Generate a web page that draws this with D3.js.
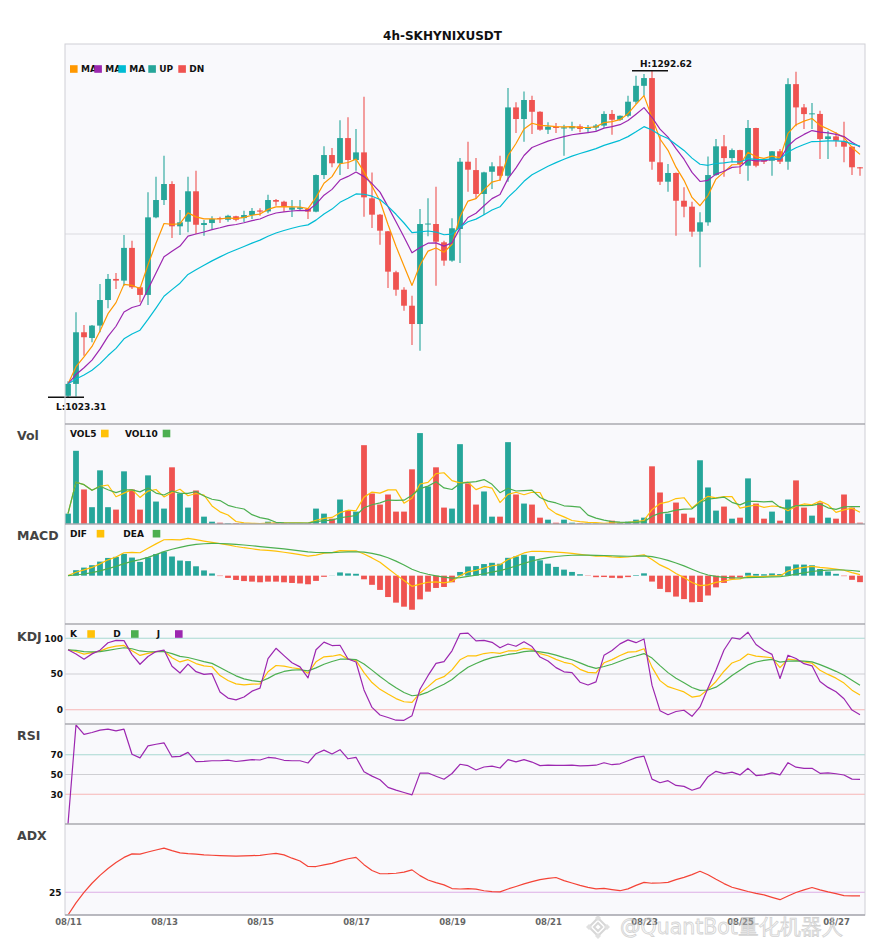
<!DOCTYPE html>
<html><head><meta charset="utf-8">
<script src="https://cdn.jsdelivr.net/npm/d3@7"></script>
<style>body{margin:0;background:#fff;} text{font-family:"DejaVu Sans",sans-serif;}</style>
</head><body><svg id="c" width="885" height="950"></svg>
<script>
// ---------- data ----------
const opens = [1024.5,1034.3,1076.9,1072.2,1082.4,1103.5,1120.9,1119.5,1146.5,1114.0,
1107.7,1171.7,1186.0,1199.2,1164.3,1168.1,1193.2,1165.4,1167.0,1171.1,
1169.7,1172.6,1171.1,1173.6,1177.4,1176.6,1186.0,1184.6,1178.0,1178.7,
1178.7,1176.4,1206.6,1223.1,1216.3,1237.1,1219.0,1225.3,1187.4,1173.9,
1160.2,1126.4,1112.0,1098.8,1083.7,1165.8,1166.2,1151.1,1136.0,1162.1,
1217.6,1210.7,1191.0,1209.3,1213.8,1206.0,1262.4,1252.8,1268.5,1258.8,
1244.0,1246.5,1245.0,1245.1,1246.8,1244.6,1245.7,1247.4,1257.0,1252.2,
1255.5,1267.1,1280.2,1286.6,1217.1,1201.1,1208.3,1185.4,1180.5,1159.9,
1167.6,1206.6,1230.3,1220.6,1227.2,1214.3,1245.4,1219.0,1218.4,1226.2,
1217.6,1281.6,1262.4,1257.0,1257.0,1236.3,1238.5,1234.6,1230.0,1213.0];
const highs = [1036.4,1093.4,1082.9,1082.9,1116.7,1125.0,1125.8,1157.1,1152.4,1114.4,
1192.4,1205.2,1222.5,1201.4,1177.8,1205.2,1210.2,1169.5,1172.6,1172.2,
1173.9,1173.0,1177.2,1179.4,1179.2,1190.4,1186.8,1185.4,1186.0,1186.0,
1179.2,1207.0,1230.3,1228.9,1251.9,1254.2,1244.6,1271.2,1208.8,1174.5,
1160.5,1127.7,1114.0,1107.1,1178.6,1187.4,1197.0,1152.4,1170.9,1220.6,
1234.1,1220.6,1209.3,1217.1,1222.5,1278.4,1266.6,1275.6,1272.0,1259.2,
1250.1,1249.5,1248.0,1250.6,1248.4,1247.8,1248.7,1259.2,1260.2,1255.8,
1272.0,1288.5,1289.9,1292.62,1239.0,1215.7,1208.6,1196.5,1184.6,1175.9,
1222.0,1236.3,1239.6,1228.6,1227.5,1252.0,1245.7,1219.8,1226.5,1228.0,
1286.4,1291.8,1265.2,1266.0,1259.6,1243.2,1241.8,1250.6,1230.3,1213.2];
const lows = [1023.31,1024.0,1057.6,1068.7,1076.9,1096.7,1112.6,1115.3,1112.6,1101.6,
1099.4,1170.9,1181.9,1154.7,1157.1,1159.4,1158.0,1156.6,1162.1,1167.0,
1168.1,1168.4,1167.6,1170.3,1173.0,1175.0,1181.3,1176.4,1172.0,1177.2,
1170.3,1175.9,1203.3,1213.0,1206.6,1211.6,1210.2,1172.2,1162.9,1149.1,
1113.4,1107.1,1094.7,1066.4,1061.7,1156.1,1115.3,1131.8,1135.1,1134.0,
1192.9,1186.8,1173.6,1195.1,1201.9,1201.1,1241.2,1234.1,1240.4,1243.2,
1240.4,1241.2,1222.5,1243.2,1241.8,1242.0,1243.2,1245.6,1239.9,1251.4,
1254.2,1265.2,1272.0,1211.0,1198.4,1192.9,1156.6,1171.7,1155.7,1130.5,
1164.8,1206.0,1205.2,1217.1,1207.4,1201.9,1213.0,1215.7,1206.0,1215.7,
1211.0,1246.8,1244.5,1244.5,1219.8,1219.8,1230.0,1217.1,1206.6,1206.0];
const closes = [1034.3,1076.9,1072.8,1082.4,1103.5,1120.9,1119.5,1146.5,1114.0,1107.7,
1171.7,1186.0,1199.2,1164.3,1167.6,1193.2,1165.6,1167.0,1170.3,1170.3,
1173.0,1169.7,1173.6,1177.0,1176.4,1186.0,1184.6,1180.8,1180.0,1180.0,
1176.4,1206.6,1223.1,1216.3,1237.1,1219.0,1225.3,1188.2,1173.9,1160.7,
1126.9,1112.0,1098.8,1083.7,1166.2,1166.6,1151.6,1136.0,1162.7,1217.6,
1211.0,1191.0,1208.8,1213.8,1206.0,1262.4,1252.8,1268.5,1258.8,1244.0,
1246.5,1245.4,1246.0,1246.8,1244.6,1245.7,1247.4,1257.0,1252.2,1255.5,
1267.1,1280.2,1286.6,1217.6,1201.1,1208.3,1185.4,1180.5,1159.9,1167.6,
1206.6,1230.3,1220.6,1227.2,1215.7,1245.4,1214.3,1217.6,1226.2,1217.6,
1281.6,1262.4,1256.9,1257.5,1236.3,1238.5,1234.9,1230.0,1213.0,1212.1];
const volumes = [1030,7270,3430,1670,5330,1670,1430,5230,3430,1430,
4830,2230,1530,5630,3030,1630,3330,730,230,130,
70,70,30,30,30,230,130,100,70,70,
100,1530,1030,530,2430,1330,1230,7830,3030,1930,
2930,1230,1230,5430,9030,3730,5630,1630,1530,7930,
4030,1930,3230,730,730,8130,2930,2030,1930,630,
430,130,430,130,70,50,50,50,330,130,
230,430,630,5730,3130,1030,2130,1030,630,6330,
3630,1330,1730,530,630,4530,2030,530,1230,330,
2430,4330,1630,830,2130,630,530,2930,1630,130];
const tickIndex = [0,12,24,36,48,60,72,84,96];
const tickLabels = ["08/11","08/13","08/15","08/17","08/19","08/21","08/23","08/25","08/27"];
const kdjTicks = [0,50,100];
const rsiTicks = [30,50,70];
const adxTicks = [25];
const title = "4h-SKHYNIXUSDT";

// ---------- indicators ----------
const N = closes.length, idx = d3.range(N);
const rollMean = (a,n) => a.map((_,i)=>d3.mean(a.slice(Math.max(0,i-n+1),i+1)));
const ema = (a,al) => { const o=[]; a.forEach((v,i)=>o.push(i===0?v:al*v+(1-al)*o[i-1])); return o; };
const ma5 = ema(closes,2/6), ma10 = ema(closes,2/11), ma20 = ema(closes,2/21);
const vol5 = rollMean(volumes,5), vol10 = rollMean(volumes,10);
const e12 = ema(closes,2/13), e26 = ema(closes,2/27);
const dif = e12.map((v,i)=>v-e26[i]);
const dea = ema(dif,2/10);
const hist = dif.map((v,i)=>2*(v-dea[i]));
const rsv = idx.map(i=>{const s=Math.max(0,i-8); const lo=d3.min(lows.slice(s,i+1)), hi=d3.max(highs.slice(s,i+1)); return hi===lo?50:(closes[i]-lo)/(hi-lo)*100;});
const kK = ema(rsv,1/3), kD = ema(kK,1/3), kJ = kK.map((v,i)=>3*v-2*kD[i]);
const delta = idx.map(i=>i===0?0:closes[i]-closes[i-1]);
const ag = ema(delta.map(d=>Math.max(d,0)),1/14), al = ema(delta.map(d=>Math.max(-d,0)),1/14);
const rsi = idx.map(i=>(ag[i]+al[i])===0?0:100*ag[i]/(ag[i]+al[i]));
const tr = idx.map(i=>i===0?highs[0]-lows[0]:Math.max(highs[i]-lows[i],Math.abs(highs[i]-closes[i-1]),Math.abs(lows[i]-closes[i-1])));
const pdm = idx.map(i=>{if(i===0)return 0;const up=highs[i]-highs[i-1],dn=lows[i-1]-lows[i];return (up>dn&&up>0)?up:0;});
const mdm = idx.map(i=>{if(i===0)return 0;const up=highs[i]-highs[i-1],dn=lows[i-1]-lows[i];return (dn>up&&dn>0)?dn:0;});
const atr = ema(tr,2/15), spdm = ema(pdm,2/15), smdm = ema(mdm,2/15);
const dx = idx.map(i=>{const p=100*spdm[i]/atr[i], m=100*smdm[i]/atr[i]; return (p+m)===0?0:100*Math.abs(p-m)/(p+m);});
const adx = ema(dx,2/15);

// ---------- layout ----------
const UP="#26a69a", DN="#ef5350";
const L=65, R=865;
const P = {main:[44,424], vol:[424,524], macd:[524,624], kdj:[624,724], rsi:[724,824], adx:[824,915]};
const svg = d3.select("#c");
const x = d3.scaleLinear().domain([-0.375, N-0.375]).range([L,R]);
const bw = 5.8;

svg.append("text").attr("x",442.5).attr("y",39.5).attr("text-anchor","middle")
  .attr("font-size",12).attr("font-weight","bold").attr("fill","#111").text(title);

const defs = svg.append("defs");
Object.entries(P).forEach(([k,[a,b]])=>{
  svg.append("rect").attr("x",L).attr("y",a).attr("width",R-L).attr("height",b-a).attr("fill","#f9f9fc");
  defs.append("clipPath").attr("id","cp-"+k).append("rect").attr("x",L).attr("y",a).attr("width",R-L).attr("height",b-a);
});
const g = k => svg.append("g").attr("clip-path",`url(#cp-${k})`);
const hline = (gr,y,col) => gr.append("line").attr("x1",L).attr("x2",R).attr("y1",y).attr("y2",y).attr("stroke",col).attr("stroke-width",1.1);
const path = (gr,sc,data,col,w) => gr.append("path").datum(data)
  .attr("d",d3.line().x((d,i)=>x(i)).y(d=>sc(d))).attr("fill","none").attr("stroke",col).attr("stroke-width",w||1.2).attr("stroke-linejoin","round");

// main
const lo = d3.min(lows), hi = d3.max(highs), pad=(hi-lo)*0.082;
const y = d3.scaleLinear().domain([lo-pad, hi+pad]).range([P.main[1],P.main[0]]);
const gm = g("main");
hline(gm,(P.main[0]+P.main[1])/2,"#dcdce0");
idx.forEach(i=>{
  const c = closes[i]>=opens[i]?UP:DN;
  gm.append("line").attr("x1",x(i)).attr("x2",x(i)).attr("y1",y(highs[i])).attr("y2",y(lows[i])).attr("stroke",c).attr("stroke-width",1.1);
  const t=y(Math.max(opens[i],closes[i])), b=y(Math.min(opens[i],closes[i]));
  gm.append("rect").attr("x",x(i)-bw/2).attr("width",bw).attr("y",t).attr("height",Math.max(1,b-t)).attr("fill",c);
});
path(gm,y,ma5,"#ff9800"); path(gm,y,ma10,"#9c27b0"); path(gm,y,ma20,"#00bcd4");
const hiI = highs.indexOf(hi), loI = lows.indexOf(lo);
svg.append("line").attr("x1",x(hiI)-20).attr("x2",x(hiI)+16).attr("y1",y(hi)).attr("y2",y(hi)).attr("stroke","#111").attr("stroke-width",1.3);
svg.append("text").attr("x",x(hiI)-12).attr("y",y(hi)-4).attr("font-size",9).attr("font-weight","bold").attr("fill","#111").text("H:"+hi.toFixed(2));
svg.append("line").attr("x1",x(loI)-20).attr("x2",x(loI)+16).attr("y1",y(lo)).attr("y2",y(lo)).attr("stroke","#111").attr("stroke-width",1.3);
svg.append("text").attr("x",x(loI)-12).attr("y",y(lo)+12.5).attr("font-size",9).attr("font-weight","bold").attr("fill","#111").text("L:"+lo.toFixed(2));

// volume
const yv = d3.scaleLinear().domain([0,d3.max(volumes)*1.1]).range([P.vol[1],P.vol[0]]);
const gv = g("vol");
idx.forEach(i=>{
  gv.append("rect").attr("x",x(i)-bw/2).attr("width",bw).attr("y",yv(volumes[i])).attr("height",yv(0)-yv(volumes[i]))
    .attr("fill",closes[i]>=opens[i]?UP:DN);
});
path(gv,yv,vol5,"#ffc107"); path(gv,yv,vol10,"#4caf50");

// macd
const mAll = dif.concat(dea,hist), mn=d3.min(mAll), mx=d3.max(mAll), mp=(mx-mn)*0.2;
const ym = d3.scaleLinear().domain([mn-mp,mx+mp]).range([P.macd[1],P.macd[0]]);
const gmc = g("macd");
idx.forEach(i=>{
  const v=hist[i];
  gmc.append("rect").attr("x",x(i)-bw/2).attr("width",bw).attr("y",Math.min(ym(v),ym(0))).attr("height",Math.abs(ym(v)-ym(0)))
    .attr("fill",v>=0?UP:DN);
});
path(gmc,ym,dif,"#ffc107"); path(gmc,ym,dea,"#4caf50");

// kdj
const yk = d3.scaleLinear().domain([-20,120]).range([P.kdj[1],P.kdj[0]]);
const gk = g("kdj");
hline(gk,yk(100),"#a8d8d2"); hline(gk,yk(50),"#cfcfd3"); hline(gk,yk(0),"#f7b6b6");
path(gk,yk,kK,"#ffc107"); path(gk,yk,kD,"#4caf50"); path(gk,yk,kJ,"#9c27b0");

// rsi
const yr = d3.scaleLinear().domain([0,100]).range([P.rsi[1],P.rsi[0]+1]);
const gr = g("rsi");
hline(gr,yr(70),"#a8d8d2"); hline(gr,yr(50),"#cfcfd3"); hline(gr,yr(30),"#f7b6b6");
path(gr,yr,rsi,"#9c27b0");

// adx
const ya = d3.scaleLinear().domain([0,100]).range([P.adx[1],P.adx[0]]);
const ga = g("adx");
hline(ga,ya(25),"#dcaee6");
path(ga,ya,adx,"#f44336");

// borders
svg.append("rect").attr("x",L).attr("y",P.main[0]).attr("width",R-L).attr("height",P.adx[1]-P.main[0]).attr("fill","none").attr("stroke","#cfcfd6").attr("stroke-width",1);
[424,524,624,724,824,915].forEach(v=>svg.append("line").attr("x1",L).attr("x2",R).attr("y1",v).attr("y2",v).attr("stroke","#aaaab0").attr("stroke-width",1.4));

// y tick labels
const yAxis = (sc,ticks,xr) => {
  const ax = svg.append("g").attr("transform",`translate(${xr},0)`)
    .call(d3.axisLeft(sc).tickValues(ticks).tickSize(0).tickPadding(0).tickFormat(d3.format("d")));
  ax.select(".domain").remove();
  ax.selectAll("text").attr("font-size",9).attr("font-weight","bold").attr("fill","#111").attr("font-family","DejaVu Sans");
};
yAxis(yk,kdjTicks,63); yAxis(yr,rsiTicks,63); yAxis(ya,adxTicks,61.5);

// x axis
const xa = svg.append("g").attr("transform",`translate(0,${P.adx[1]})`)
  .call(d3.axisBottom(x).tickValues(tickIndex).tickSize(0).tickPadding(4).tickFormat((d,i)=>tickLabels[i]));
xa.select(".domain").remove();
xa.selectAll("text").attr("font-size",8.5).attr("font-weight","bold").attr("fill","#666").attr("font-family","DejaVu Sans");

// panel labels
[["Vol",439.5],["MACD",539.5],["KDJ",640.5],["RSI",739.5],["ADX",839.5]].forEach(([t,yy])=>
  svg.append("text").attr("x",17).attr("y",yy).attr("font-size",12.5).attr("font-weight","bold").attr("fill","#444").text(t));

// legends
const sq = (xx,yc,col)=>svg.append("rect").attr("x",xx).attr("y",yc-3.8).attr("width",7.6).attr("height",7.6).attr("fill",col);
const lt = (xx,yc,t)=>svg.append("text").attr("x",xx).attr("y",yc+3.3).attr("font-size",9).attr("font-weight","bold").attr("fill","#111").text(t);
[[70,"MA"],[94.3,"MA"],[118.3,"MA"],[148.3,"UP"],[178.3,"DN"]].forEach(([xx,t])=>{lt(xx+11,69,t);});
[[70,"#ff9800"],[94.3,"#9c27b0"],[118.3,"#00bcd4"],[148.3,UP],[178.3,DN]].forEach(([xx,c])=>sq(xx,69,c));
lt(70,433.5,"VOL5"); sq(101,433.5,"#ffc107"); lt(125,433.5,"VOL10"); sq(162.7,433.5,"#4caf50");
lt(70,533.7,"DIF"); sq(96.7,533.7,"#ffc107"); lt(123.3,533.7,"DEA"); sq(152.7,533.7,"#4caf50");
lt(70,634,"K"); sq(87.3,634,"#ffc107"); lt(113.3,634,"D"); sq(131,634,"#4caf50"); lt(156.7,634,"J"); sq(175,634,"#9c27b0");

// watermark
const wm = svg.append("g").attr("opacity",0.55);
[[598,927,9],[598,927,4]].forEach(([cx,cy,r])=>wm.append("path")
  .attr("d",`M${cx},${cy-r}L${cx+r},${cy}L${cx},${cy+r}L${cx-r},${cy}Z`).attr("fill","none").attr("stroke","#b8b8b8").attr("stroke-width",2));
[[589,927],[607,927],[598,918],[598,936]].forEach(([cx,cy])=>wm.append("path")
  .attr("d",`M${cx},${cy-3}L${cx+3},${cy}L${cx},${cy+3}L${cx-3},${cy}Z`).attr("fill","#c8c8c8"));
wm.append("text").attr("x",620).attr("y",934).attr("font-size",20.5).attr("fill","#f4f4f4").attr("stroke","#b0b0b0").attr("stroke-width",0.8)
  .attr("font-family","DejaVu Sans, Noto Sans CJK SC").text("@QuantBot量化机器人");
</script></body></html>
